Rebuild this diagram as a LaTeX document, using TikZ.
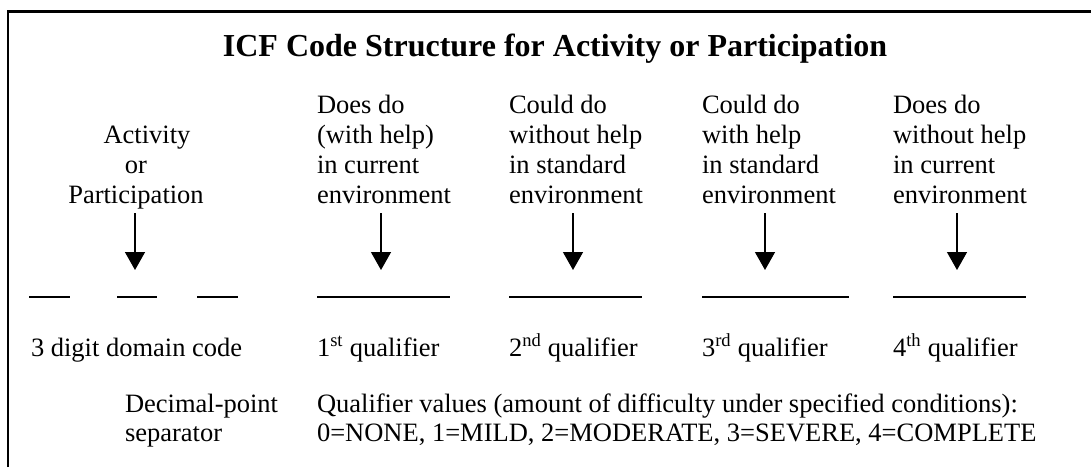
\documentclass[tikz,border=0pt]{standalone}
\usepackage{fontspec}
\setmainfont{Liberation Serif}
\usetikzlibrary{arrows.meta}
\begin{document}
\begin{tikzpicture}[x=1pt,y=-1pt,
  txt/.style={inner sep=0pt,outer sep=0pt,font=\fontsize{26.5}{30}\selectfont},
  lft/.style={txt,anchor=base west},
  ctr/.style={txt,anchor=base},
  pointer/.style={line width=1.4pt,-{Triangle[width=20pt,length=18pt]}},
  blank/.style={line width=1.5pt},
  frameline/.style={line width=2.2pt}]
\useasboundingbox (0,0) rectangle (1091,467);

% open frame: top and left edges
\draw[frameline] (8,467) -- (8,11.5) -- (1091,11.5);

% title
\node[txt,anchor=base,font=\fontsize{32}{36}\selectfont\bfseries] (title) at (555,56)
  {ICF Code Structure for Activity or Participation};

% column headings
\node[ctr] (h1a) at (147,143) {Activity};
\node[ctr] (h1b) at (136,173) {or};
\node[ctr] (h1c) at (136,203) {Participation};

\node[lft] (h2a) at (317,113) {Does do};
\node[lft] (h2b) at (317,143) {(with help)};
\node[lft] (h2c) at (317,173) {in current};
\node[lft] (h2d) at (317,203) {environment};

\node[lft] (h3a) at (509,113) {Could do};
\node[lft] (h3b) at (509,143) {without help};
\node[lft] (h3c) at (509,173) {in standard};
\node[lft] (h3d) at (509,203) {environment};

\node[lft] (h4a) at (702,113) {Could do};
\node[lft] (h4b) at (702,143) {with help};
\node[lft] (h4c) at (702,173) {in standard};
\node[lft] (h4d) at (702,203) {environment};

\node[lft] (h5a) at (893,113) {Does do};
\node[lft] (h5b) at (893,143) {without help};
\node[lft] (h5c) at (893,173) {in current};
\node[lft] (h5d) at (893,203) {environment};

% arrow start and end points
\foreach \n/\x in {1/135,2/381,3/573,4/765,5/957}{
  \coordinate (s\n) at (\x,213);
  \coordinate (e\n) at (\x,270);
  \draw[pointer] (s\n) -- (e\n);
}

% blanks to be filled in
\coordinate (b1l) at (29,297);  \coordinate (b1r) at (70,297);
\coordinate (b2l) at (117,297); \coordinate (b2r) at (157,297);
\coordinate (b3l) at (197,297); \coordinate (b3r) at (238,297);
\coordinate (q1l) at (317,297); \coordinate (q1r) at (450,297);
\coordinate (q2l) at (509,297); \coordinate (q2r) at (642,297);
\coordinate (q3l) at (702,297); \coordinate (q3r) at (849,297);
\coordinate (q4l) at (893,297); \coordinate (q4r) at (1026,297);
\foreach \a in {b1,b2,b3,q1,q2,q3,q4}{
  \draw[blank] (\a l) -- (\a r);
}

% labels under the blanks
\node[lft] (dom) at (31,356) {3 digit domain code};
\node[lft] (qa) at (317,356) {1\textsuperscript{st} qualifier};
\node[lft] (qb) at (509,356) {2\textsuperscript{nd} qualifier};
\node[lft] (qc) at (702,356) {3\textsuperscript{rd} qualifier};
\node[lft] (qd) at (893,356) {4\textsuperscript{th} qualifier};

% notes
\node[lft] (dp1) at (125,412) {Decimal-point};
\node[lft] (dp2) at (125,441) {separator};
\node[lft] (qv1) at (317,412) {Qualifier values (amount of difficulty under specified conditions):};
\node[lft] (qv2) at (317,441) {0=NONE, 1=MILD, 2=MODERATE, 3=SEVERE, 4=COMPLETE};
\end{tikzpicture}
\end{document}
